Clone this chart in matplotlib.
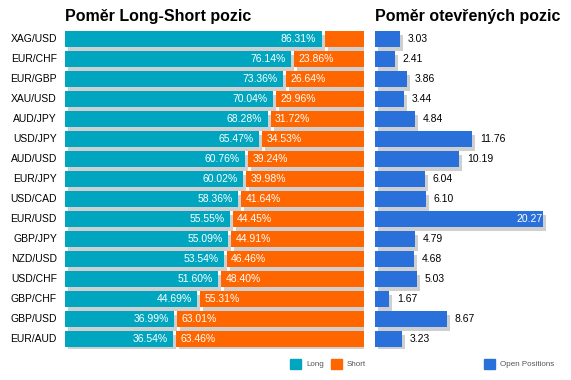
import numpy as np
import matplotlib.pyplot as plt
from matplotlib.patches import Rectangle

plt.rcParams['font.family'] = ['Liberation Sans', 'DejaVu Sans']

pairs = ["XAG/USD", "EUR/CHF", "EUR/GBP", "XAU/USD", "AUD/JPY", "USD/JPY", "AUD/USD", "EUR/JPY",
         "USD/CAD", "EUR/USD", "GBP/JPY", "NZD/USD", "USD/CHF", "GBP/CHF", "GBP/USD", "EUR/AUD"]
long_pct = [86.31, 76.14, 73.36, 70.04, 68.28, 65.47, 60.76, 60.02,
            58.36, 55.55, 55.09, 53.54, 51.60, 44.69, 36.99, 36.54]
short_pct = [13.69, 23.86, 26.64, 29.96, 31.72, 34.53, 39.24, 39.98,
             41.64, 44.45, 44.91, 46.46, 48.40, 55.31, 63.01, 63.46]
open_pos = [3.03, 2.41, 3.86, 3.44, 4.84, 11.76, 10.19, 6.04,
            6.10, 20.27, 4.79, 4.68, 5.03, 1.67, 8.67, 3.23]

LONG_C = "#00A6BF"
SHORT_C = "#FF6600"
OPEN_C = "#2A70DA"
SHADOW_C = "#CFCFCF"

W, H = 571, 380
fig = plt.figure(figsize=(W / 100, H / 100), dpi=100)


def px_axes(x0, y_top, w, h):
    return fig.add_axes([x0 / W, 1 - (y_top + h) / H, w / W, h / H])


n = len(pairs)
y = np.arange(n)
bh = 0.8

# left panel: 65..364 px, rows 29..349 px
ax1 = px_axes(65, 29, 299, 320)
ax1.set_xlim(0, 100)
ax1.set_ylim(n - 0.5, -0.5)
ax1.axis("off")
sx = 3 / 299 * 100   # shadow offset in data units
sy = 3.5 / 20
gap = 0.5
for i in range(n):
    lw = long_pct[i] - gap
    ax1.add_patch(Rectangle((sx, i - bh / 2 + sy), lw, bh, color=SHADOW_C, lw=0, zorder=1))
    ax1.add_patch(Rectangle((long_pct[i] + gap + sx, i - bh / 2 + sy), short_pct[i] - gap, bh,
                            color=SHADOW_C, lw=0, zorder=1))
ax1.barh(y, [v - gap for v in long_pct], height=bh, color=LONG_C, zorder=2)
ax1.barh(y, [v - gap for v in short_pct], left=[v + gap for v in long_pct], height=bh,
         color=SHORT_C, zorder=2)
for i in range(n):
    ax1.text(long_pct[i] - 2.3, i, f"{long_pct[i]:.2f}%", color="white", fontsize=7.5,
             ha="right", va="center", zorder=3)
    if short_pct[i] > 20:
        ax1.text(long_pct[i] + 2.0, i, f"{short_pct[i]:.2f}%", color="white", fontsize=7.5,
                 ha="left", va="center", zorder=3)
    ax1.text(-2.7, i, pairs[i], color="black", fontsize=7.5, ha="right", va="center")

fig.text(65 / W, 1 - 16.5 / H, "Poměr Long-Short pozic", fontsize=11.5, fontweight="bold",
         ha="left", va="center")

# right panel
ax2 = px_axes(375, 29, 185, 320)
ax2.set_xlim(0, 185 / 8.29)
ax2.set_ylim(n - 0.5, -0.5)
ax2.axis("off")
rsx = 3 / 8.29
rsy = 4 / 20
for i in range(n):
    ax2.add_patch(Rectangle((rsx, i - bh / 2 + rsy), open_pos[i], bh, color=SHADOW_C, lw=0, zorder=1))
ax2.barh(y, open_pos, height=bh, color=OPEN_C, zorder=2)
vmax = max(open_pos)
for i in range(n):
    if open_pos[i] == vmax:
        ax2.text(open_pos[i] - 0.1, i, f"{open_pos[i]:.2f}", color="white", fontsize=7.5,
                 ha="right", va="center", zorder=3)
    else:
        ax2.text(open_pos[i] + 0.95, i, f"{open_pos[i]:.2f}", color="black", fontsize=7.5,
                 ha="left", va="center", zorder=3)

fig.text(375 / W, 1 - 16.5 / H, "Poměr otevřených pozic", fontsize=11.5, fontweight="bold",
         ha="left", va="center")

# legends
def legend_item(x, label, color):
    fig.patches.append(Rectangle((x / W, 1 - 369 / H), 11 / W, 10 / H, color=color,
                                 transform=fig.transFigure, figure=fig))
    fig.text((x + 16) / W, 1 - 364 / H, label, fontsize=5.8, color="#555555",
             ha="left", va="center")

legend_item(290, "Long", LONG_C)
legend_item(331, "Short", SHORT_C)
legend_item(484, "Open Positions", OPEN_C)

fig.savefig("out.png", dpi=100, facecolor="white")
